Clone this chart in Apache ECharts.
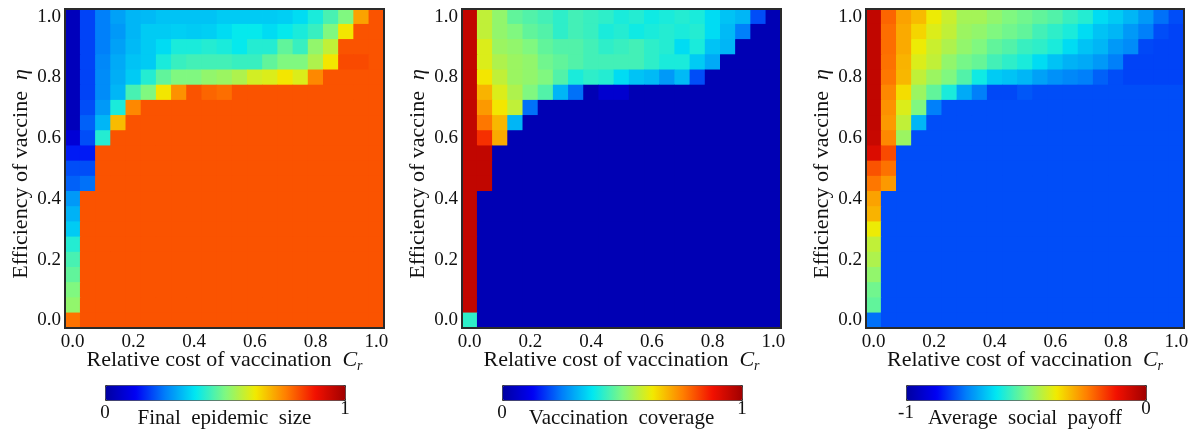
<!DOCTYPE html>
<html><head><meta charset="utf-8">
<script src="https://cdn.jsdelivr.net/npm/echarts@6/dist/echarts.min.js"></script>
<style>html,body{margin:0;padding:0;background:#fff}#c{width:1194px;height:432px}</style>
</head><body><div id="c"></div>
<script>
// Grid coordinates (21 x 21)
const costs = ['0.00','0.05','0.10','0.15','0.20','0.25','0.30','0.35','0.40','0.45','0.50','0.55','0.60','0.65','0.70','0.75','0.80','0.85','0.90','0.95','1.00'];
const etas  = ['0.00','0.05','0.10','0.15','0.20','0.25','0.30','0.35','0.40','0.45','0.50','0.55','0.60','0.65','0.70','0.75','0.80','0.85','0.90','0.95','1.00'];
const tickLabels = ['0.0','0.2','0.4','0.6','0.8','1.0'];

// Rows listed from top (eta = 1.00) to bottom (eta = 0.00); columns Cr = 0.00 .. 1.00
const finalSize = [
 [0.04,0.19,0.25,0.29,0.315,0.32,0.33,0.33,0.33,0.33,0.34,0.34,0.34,0.34,0.345,0.36,0.40,0.445,0.50,0.71,0.80],
 [0.04,0.19,0.25,0.28,0.315,0.34,0.34,0.345,0.34,0.345,0.36,0.38,0.38,0.36,0.38,0.40,0.43,0.50,0.63,0.80,0.80],
 [0.04,0.19,0.25,0.29,0.32,0.34,0.36,0.40,0.40,0.41,0.40,0.38,0.41,0.41,0.47,0.43,0.52,0.57,0.80,0.80,0.80],
 [0.04,0.19,0.26,0.30,0.33,0.34,0.40,0.43,0.44,0.44,0.44,0.43,0.43,0.47,0.50,0.50,0.55,0.63,0.81,0.81,0.80],
 [0.04,0.19,0.265,0.305,0.34,0.41,0.47,0.50,0.50,0.52,0.53,0.55,0.59,0.60,0.63,0.60,0.74,0.80,0.80,0.80,0.80],
 [0.04,0.19,0.265,0.315,0.445,0.50,0.63,0.73,0.80,0.78,0.77,0.80,0.80,0.80,0.80,0.80,0.80,0.80,0.80,0.80,0.80],
 [0.04,0.20,0.28,0.40,0.74,0.80,0.80,0.80,0.80,0.80,0.80,0.80,0.80,0.80,0.80,0.80,0.80,0.80,0.80,0.80,0.80],
 [0.04,0.22,0.315,0.68,0.80,0.80,0.80,0.80,0.80,0.80,0.80,0.80,0.80,0.80,0.80,0.80,0.80,0.80,0.80,0.80,0.80],
 [0.08,0.20,0.41,0.80,0.80,0.80,0.80,0.80,0.80,0.80,0.80,0.80,0.80,0.80,0.80,0.80,0.80,0.80,0.80,0.80,0.80],
 [0.15,0.15,0.80,0.80,0.80,0.80,0.80,0.80,0.80,0.80,0.80,0.80,0.80,0.80,0.80,0.80,0.80,0.80,0.80,0.80,0.80],
 [0.20,0.20,0.80,0.80,0.80,0.80,0.80,0.80,0.80,0.80,0.80,0.80,0.80,0.80,0.80,0.80,0.80,0.80,0.80,0.80,0.80],
 [0.22,0.235,0.80,0.80,0.80,0.80,0.80,0.80,0.80,0.80,0.80,0.80,0.80,0.80,0.80,0.80,0.80,0.80,0.80,0.80,0.80],
 [0.28,0.80,0.80,0.80,0.80,0.80,0.80,0.80,0.80,0.80,0.80,0.80,0.80,0.80,0.80,0.80,0.80,0.80,0.80,0.80,0.80],
 [0.31,0.80,0.80,0.80,0.80,0.80,0.80,0.80,0.80,0.80,0.80,0.80,0.80,0.80,0.80,0.80,0.80,0.80,0.80,0.80,0.80],
 [0.34,0.80,0.80,0.80,0.80,0.80,0.80,0.80,0.80,0.80,0.80,0.80,0.80,0.80,0.80,0.80,0.80,0.80,0.80,0.80,0.80],
 [0.41,0.80,0.80,0.80,0.80,0.80,0.80,0.80,0.80,0.80,0.80,0.80,0.80,0.80,0.80,0.80,0.80,0.80,0.80,0.80,0.80],
 [0.445,0.80,0.80,0.80,0.80,0.80,0.80,0.80,0.80,0.80,0.80,0.80,0.80,0.80,0.80,0.80,0.80,0.80,0.80,0.80,0.80],
 [0.47,0.80,0.80,0.80,0.80,0.80,0.80,0.80,0.80,0.80,0.80,0.80,0.80,0.80,0.80,0.80,0.80,0.80,0.80,0.80,0.80],
 [0.50,0.80,0.80,0.80,0.80,0.80,0.80,0.80,0.80,0.80,0.80,0.80,0.80,0.80,0.80,0.80,0.80,0.80,0.80,0.80,0.80],
 [0.52,0.80,0.80,0.80,0.80,0.80,0.80,0.80,0.80,0.80,0.80,0.80,0.80,0.80,0.80,0.80,0.80,0.80,0.80,0.80,0.80],
 [0.766,0.80,0.80,0.80,0.80,0.80,0.80,0.80,0.80,0.80,0.80,0.80,0.80,0.80,0.80,0.80,0.80,0.80,0.80,0.80,0.80]
];

const coverage = [
 [0.95,0.57,0.52,0.47,0.455,0.44,0.42,0.44,0.43,0.42,0.40,0.41,0.39,0.40,0.41,0.40,0.36,0.33,0.315,0.20,0.03],
 [0.95,0.57,0.52,0.50,0.47,0.455,0.42,0.44,0.43,0.40,0.41,0.39,0.40,0.41,0.40,0.41,0.36,0.32,0.25,0.03,0.03],
 [0.95,0.60,0.53,0.52,0.50,0.47,0.455,0.455,0.44,0.42,0.43,0.44,0.42,0.41,0.36,0.40,0.33,0.315,0.03,0.03,0.03],
 [0.95,0.60,0.55,0.53,0.52,0.485,0.47,0.455,0.44,0.44,0.44,0.44,0.42,0.40,0.40,0.34,0.30,0.03,0.03,0.03,0.03],
 [0.95,0.63,0.57,0.53,0.52,0.50,0.455,0.40,0.42,0.41,0.36,0.33,0.32,0.28,0.32,0.20,0.03,0.03,0.03,0.03,0.03],
 [0.95,0.69,0.60,0.55,0.50,0.455,0.315,0.235,0.03,0.07,0.07,0.03,0.03,0.03,0.03,0.03,0.03,0.03,0.03,0.03,0.03],
 [0.95,0.72,0.63,0.57,0.235,0.03,0.03,0.03,0.03,0.03,0.03,0.03,0.03,0.03,0.03,0.03,0.03,0.03,0.03,0.03,0.03],
 [0.95,0.76,0.685,0.315,0.03,0.03,0.03,0.03,0.03,0.03,0.03,0.03,0.03,0.03,0.03,0.03,0.03,0.03,0.03,0.03,0.03],
 [0.95,0.84,0.70,0.03,0.03,0.03,0.03,0.03,0.03,0.03,0.03,0.03,0.03,0.03,0.03,0.03,0.03,0.03,0.03,0.03,0.03],
 [0.95,0.95,0.03,0.03,0.03,0.03,0.03,0.03,0.03,0.03,0.03,0.03,0.03,0.03,0.03,0.03,0.03,0.03,0.03,0.03,0.03],
 [0.95,0.95,0.03,0.03,0.03,0.03,0.03,0.03,0.03,0.03,0.03,0.03,0.03,0.03,0.03,0.03,0.03,0.03,0.03,0.03,0.03],
 [0.95,0.95,0.03,0.03,0.03,0.03,0.03,0.03,0.03,0.03,0.03,0.03,0.03,0.03,0.03,0.03,0.03,0.03,0.03,0.03,0.03],
 [0.95,0.03,0.03,0.03,0.03,0.03,0.03,0.03,0.03,0.03,0.03,0.03,0.03,0.03,0.03,0.03,0.03,0.03,0.03,0.03,0.03],
 [0.95,0.03,0.03,0.03,0.03,0.03,0.03,0.03,0.03,0.03,0.03,0.03,0.03,0.03,0.03,0.03,0.03,0.03,0.03,0.03,0.03],
 [0.95,0.03,0.03,0.03,0.03,0.03,0.03,0.03,0.03,0.03,0.03,0.03,0.03,0.03,0.03,0.03,0.03,0.03,0.03,0.03,0.03],
 [0.95,0.03,0.03,0.03,0.03,0.03,0.03,0.03,0.03,0.03,0.03,0.03,0.03,0.03,0.03,0.03,0.03,0.03,0.03,0.03,0.03],
 [0.95,0.03,0.03,0.03,0.03,0.03,0.03,0.03,0.03,0.03,0.03,0.03,0.03,0.03,0.03,0.03,0.03,0.03,0.03,0.03,0.03],
 [0.95,0.03,0.03,0.03,0.03,0.03,0.03,0.03,0.03,0.03,0.03,0.03,0.03,0.03,0.03,0.03,0.03,0.03,0.03,0.03,0.03],
 [0.95,0.03,0.03,0.03,0.03,0.03,0.03,0.03,0.03,0.03,0.03,0.03,0.03,0.03,0.03,0.03,0.03,0.03,0.03,0.03,0.03],
 [0.95,0.03,0.03,0.03,0.03,0.03,0.03,0.03,0.03,0.03,0.03,0.03,0.03,0.03,0.03,0.03,0.03,0.03,0.03,0.03,0.03],
 [0.42,0.03,0.03,0.03,0.03,0.03,0.03,0.03,0.03,0.03,0.03,0.03,0.03,0.03,0.03,0.03,0.03,0.03,0.03,0.03,0.03]
];

const payoff = [
 [-0.05,-0.22,-0.29,-0.32,-0.38,-0.42,-0.46,-0.46,-0.48,-0.50,-0.515,-0.53,-0.545,-0.57,-0.59,-0.64,-0.66,-0.685,-0.72,-0.765,-0.80],
 [-0.05,-0.23,-0.30,-0.35,-0.40,-0.43,-0.47,-0.48,-0.50,-0.515,-0.53,-0.56,-0.58,-0.60,-0.64,-0.67,-0.685,-0.72,-0.75,-0.80,-0.81],
 [-0.05,-0.23,-0.30,-0.38,-0.42,-0.45,-0.48,-0.50,-0.53,-0.545,-0.57,-0.58,-0.60,-0.64,-0.67,-0.685,-0.72,-0.735,-0.805,-0.81,-0.81],
 [-0.05,-0.234,-0.31,-0.40,-0.43,-0.48,-0.51,-0.525,-0.56,-0.58,-0.60,-0.64,-0.67,-0.69,-0.70,-0.72,-0.75,-0.81,-0.81,-0.81,-0.81],
 [-0.05,-0.24,-0.315,-0.43,-0.47,-0.50,-0.545,-0.61,-0.66,-0.67,-0.685,-0.71,-0.73,-0.74,-0.75,-0.78,-0.80,-0.81,-0.81,-0.81,-0.81],
 [-0.05,-0.26,-0.36,-0.47,-0.53,-0.60,-0.70,-0.75,-0.805,-0.805,-0.79,-0.80,-0.80,-0.80,-0.80,-0.80,-0.80,-0.80,-0.80,-0.80,-0.80],
 [-0.05,-0.27,-0.40,-0.50,-0.75,-0.80,-0.80,-0.80,-0.80,-0.80,-0.80,-0.80,-0.80,-0.80,-0.80,-0.80,-0.80,-0.80,-0.80,-0.80,-0.80],
 [-0.05,-0.28,-0.43,-0.685,-0.80,-0.80,-0.80,-0.80,-0.80,-0.80,-0.80,-0.80,-0.80,-0.80,-0.80,-0.80,-0.80,-0.80,-0.80,-0.80,-0.80],
 [-0.06,-0.26,-0.47,-0.80,-0.80,-0.80,-0.80,-0.80,-0.80,-0.80,-0.80,-0.80,-0.80,-0.80,-0.80,-0.80,-0.80,-0.80,-0.80,-0.80,-0.80],
 [-0.09,-0.19,-0.80,-0.80,-0.80,-0.80,-0.80,-0.80,-0.80,-0.80,-0.80,-0.80,-0.80,-0.80,-0.80,-0.80,-0.80,-0.80,-0.80,-0.80,-0.80],
 [-0.20,-0.234,-0.80,-0.80,-0.80,-0.80,-0.80,-0.80,-0.80,-0.80,-0.80,-0.80,-0.80,-0.80,-0.80,-0.80,-0.80,-0.80,-0.80,-0.80,-0.80],
 [-0.24,-0.28,-0.80,-0.80,-0.80,-0.80,-0.80,-0.80,-0.80,-0.80,-0.80,-0.80,-0.80,-0.80,-0.80,-0.80,-0.80,-0.80,-0.80,-0.80,-0.80],
 [-0.29,-0.80,-0.80,-0.80,-0.80,-0.80,-0.80,-0.80,-0.80,-0.80,-0.80,-0.80,-0.80,-0.80,-0.80,-0.80,-0.80,-0.80,-0.80,-0.80,-0.80],
 [-0.31,-0.80,-0.80,-0.80,-0.80,-0.80,-0.80,-0.80,-0.80,-0.80,-0.80,-0.80,-0.80,-0.80,-0.80,-0.80,-0.80,-0.80,-0.80,-0.80,-0.80],
 [-0.38,-0.80,-0.80,-0.80,-0.80,-0.80,-0.80,-0.80,-0.80,-0.80,-0.80,-0.80,-0.80,-0.80,-0.80,-0.80,-0.80,-0.80,-0.80,-0.80,-0.80],
 [-0.43,-0.80,-0.80,-0.80,-0.80,-0.80,-0.80,-0.80,-0.80,-0.80,-0.80,-0.80,-0.80,-0.80,-0.80,-0.80,-0.80,-0.80,-0.80,-0.80,-0.80],
 [-0.45,-0.80,-0.80,-0.80,-0.80,-0.80,-0.80,-0.80,-0.80,-0.80,-0.80,-0.80,-0.80,-0.80,-0.80,-0.80,-0.80,-0.80,-0.80,-0.80,-0.80],
 [-0.48,-0.80,-0.80,-0.80,-0.80,-0.80,-0.80,-0.80,-0.80,-0.80,-0.80,-0.80,-0.80,-0.80,-0.80,-0.80,-0.80,-0.80,-0.80,-0.80,-0.80],
 [-0.515,-0.80,-0.80,-0.80,-0.80,-0.80,-0.80,-0.80,-0.80,-0.80,-0.80,-0.80,-0.80,-0.80,-0.80,-0.80,-0.80,-0.80,-0.80,-0.80,-0.80],
 [-0.53,-0.80,-0.80,-0.80,-0.80,-0.80,-0.80,-0.80,-0.80,-0.80,-0.80,-0.80,-0.80,-0.80,-0.80,-0.80,-0.80,-0.80,-0.80,-0.80,-0.80],
 [-0.765,-0.80,-0.80,-0.80,-0.80,-0.80,-0.80,-0.80,-0.80,-0.80,-0.80,-0.80,-0.80,-0.80,-0.80,-0.80,-0.80,-0.80,-0.80,-0.80,-0.80]
];

const colorbarTitles = ['Final  epidemic  size', 'Vaccination  coverage', 'Average  social  payoff'];
const colorbarMin = [0, 0, -1];
const colorbarMax = [1, 1, 0];
const colorbarMinLabels = ['0', '0', '-1'];
const colorbarMaxLabels = ['1', '1', '0'];
const jet = ['#0000a0','#0000f4','#0080fa','#00e8f2','#80f880','#f2ea00','#ff8000','#f21000','#a00000'];

const FONT = '"Liberation Serif","Times New Roman",serif';
const gridLefts = [65, 462, 866];
const gridWidths = [319, 319, 318];
const panels = [finalSize, coverage, payoff];

function toCells(rows) {
  const out = [];
  const n = rows.length;
  rows.forEach((row, r) => row.forEach((v, c) => out.push([c, n - 1 - r, v])));
  return out;
}

const grid = [], xAxis = [], yAxis = [], series = [], visualMap = [], graphic = [];
panels.forEach((rows, i) => {
  grid.push({left: gridLefts[i], top: 9, width: gridWidths[i], height: 319,
    show: true, z: 10, backgroundColor: 'transparent', borderColor: '#2a2a2a', borderWidth: 2});
  xAxis.push({type: 'category', gridIndex: i, data: costs,
    axisLine: {show: false}, axisTick: {show: false}, splitLine: {show: false},
    axisLabel: {interval: 3, margin: 5, color: '#111', fontFamily: FONT, fontSize: 19,
      formatter: (v, idx) => tickLabels[idx / 4]},
    name: 'Relative cost of vaccination  {c|C}{r|r}', nameLocation: 'middle', nameGap: 19,
    nameMoveOverlap: false,
    nameTextStyle: {color: '#111', fontFamily: FONT, fontSize: 22,
      rich: {c: {fontStyle: 'italic', fontFamily: FONT, fontSize: 22, color: '#111'},
             r: {fontStyle: 'italic', fontFamily: FONT, fontSize: 14, color: '#111', padding: [12, 0, 0, 0]}}}
  });
  yAxis.push({type: 'category', gridIndex: i, data: etas,
    axisLine: {show: false}, axisTick: {show: false}, splitLine: {show: false},
    axisLabel: {interval: 3, margin: 4, color: '#111', fontFamily: FONT, fontSize: 19,
      formatter: (v, idx) => tickLabels[idx / 4]},
    name: 'Efficiency of vaccine  {e|η}', nameLocation: 'middle', nameGap: 33,
    nameMoveOverlap: false,
    nameTextStyle: {color: '#111', fontFamily: FONT, fontSize: 22, padding: [0, 11, 0, 0],
      rich: {e: {fontStyle: 'italic', fontFamily: FONT, fontSize: 22, color: '#111'}}}
  });
  const cbLeft = gridLefts[i] + 40;
  visualMap.push({type: 'continuous', seriesIndex: [i, i + 3], min: colorbarMin[i], max: colorbarMax[i],
    orient: 'horizontal', left: cbLeft, top: 385, itemWidth: 15, itemHeight: 240,
    calculable: false, realtime: false, hoverLink: false, padding: 0,
    borderColor: '#333', borderWidth: 1,
    inRange: {color: jet}, textStyle: {color: 'transparent'}});
  graphic.push({type: 'text', x: cbLeft, y: 413, style: {text: colorbarMinLabels[i], font: '19px ' + FONT,
    fill: '#111', align: 'center', verticalAlign: 'middle', textAlign: 'center', textVerticalAlign: 'middle'}});
  graphic.push({type: 'text', x: cbLeft + 240, y: 409, style: {text: colorbarMaxLabels[i], font: '19px ' + FONT,
    fill: '#111', align: 'center', verticalAlign: 'middle', textAlign: 'center', textVerticalAlign: 'middle'}});
  graphic.push({type: 'text', x: gridLefts[i] + gridWidths[i] / 2, y: 418, style: {text: colorbarTitles[i], font: '21px ' + FONT,
    fill: '#111', align: 'center', verticalAlign: 'middle', textAlign: 'center', textVerticalAlign: 'middle'}});
});
// main heatmaps, then the same cells drawn once more on top to close anti-aliasing seams between cells
for (let pass = 0; pass < 2; pass++) {
  panels.forEach((rows, i) => {
    series.push({type: 'heatmap', xAxisIndex: i, yAxisIndex: i, data: toCells(rows),
      emphasis: {disabled: true}, progressive: 0, itemStyle: {borderWidth: 0}, z: 2 + pass});
  });
}

const chart = echarts.init(document.getElementById('c'), null, {renderer: 'canvas'});
chart.setOption({animation: false, backgroundColor: '#fff', grid, xAxis, yAxis, series, visualMap, graphic});
</script>
</body></html>
